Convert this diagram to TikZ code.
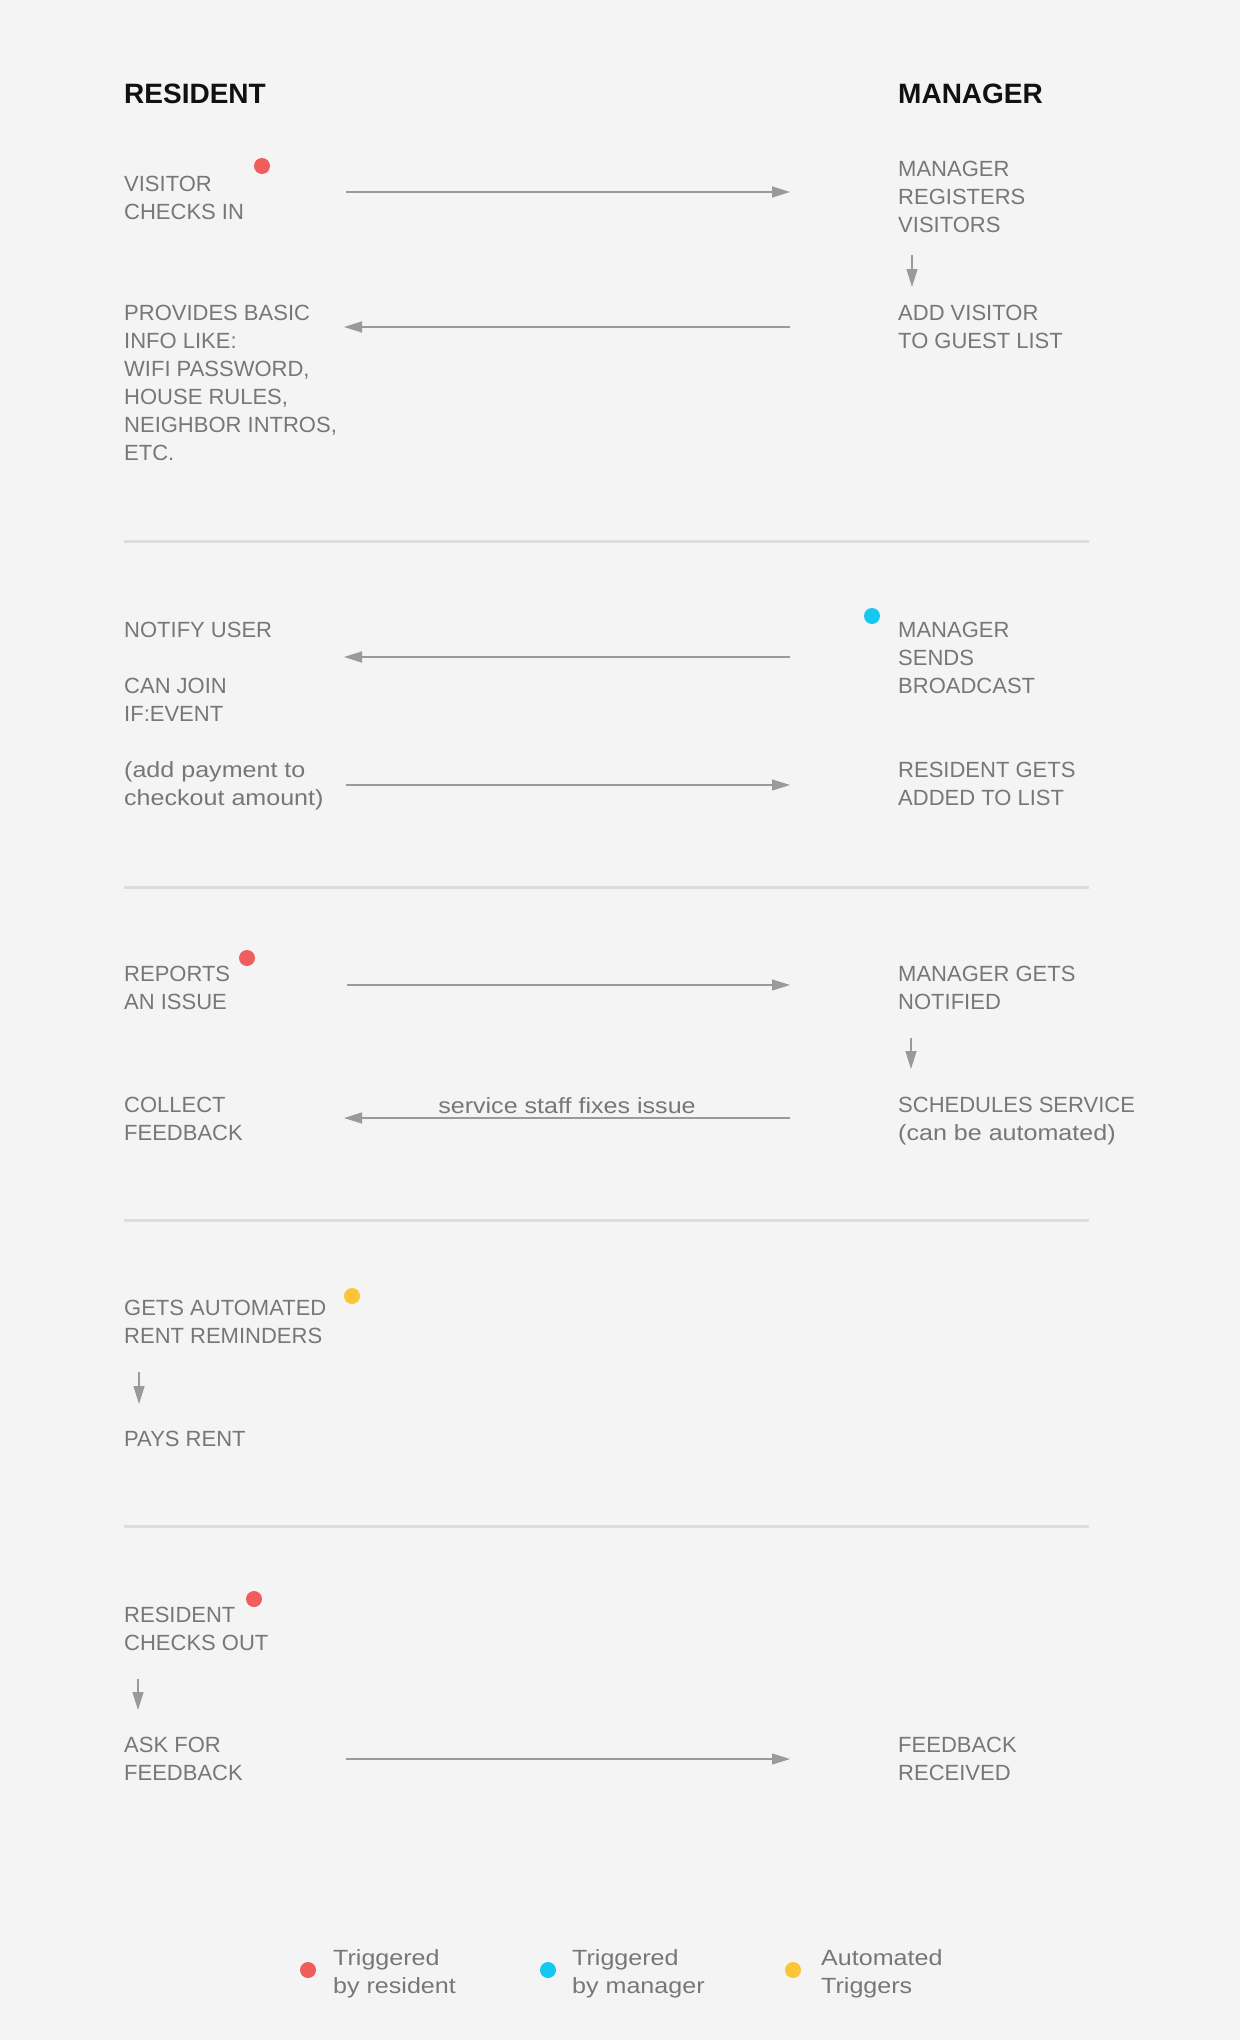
\documentclass[tikz,border=0pt]{standalone}
\usepackage{fontspec}
\setmainfont{Liberation Sans}
\newfontfamily\widefont[FakeStretch=1.14]{Liberation Sans}
\usetikzlibrary{arrows.meta, positioning}
\definecolor{flowbg}{HTML}{F4F4F4}
\definecolor{flowtext}{HTML}{777777}
\definecolor{flowhead}{HTML}{111111}
\definecolor{flowline}{HTML}{9A9A9A}
\definecolor{flowrule}{HTML}{DDDDDD}
\definecolor{dotred}{HTML}{EF5D5D}
\definecolor{dotblue}{HTML}{14C8F2}
\definecolor{dotyellow}{HTML}{FBC536}

% base anchor sits on the last line of a node
\tikzset{
  steptext/.style={anchor=base west,inner sep=0pt,align=left,text=flowtext,
    font=\fontsize{22}{28}\selectfont},
  notetext/.style={steptext,font=\fontsize{22}{28}\selectfont\widefont},
  headtext/.style={anchor=base west,inner sep=0pt,text=flowhead,
    font=\fontsize{28}{34}\selectfont\bfseries},
  flow/.style={draw=flowline,line width=1.3pt,-{Triangle[length=18pt,width=11pt]}},
  rule/.style={draw=flowrule,line width=3pt},
  trigger/.style={circle,inner sep=0pt,minimum size=16pt},
}

\begin{document}
\begin{tikzpicture}[x=1pt,y=-1pt]
  \fill[flowbg] (0,0) rectangle (1240,2040);
  \useasboundingbox (0,0) rectangle (1240,2040);

  % column heads
  \node[headtext] (resident) at (124,103) {RESIDENT};
  \node[headtext] (manager) at (898,103) {MANAGER};

  % visitors
  \node[steptext] (checkin) at (124,219) {VISITOR\\CHECKS IN};
  \node[trigger,fill=dotred] (d1) at (262,166) {};
  \node[steptext] (registers) at (898,232) {MANAGER\\REGISTERS\\VISITORS};
  \node[steptext] (guestlist) at (898,348) {ADD VISITOR\\TO GUEST LIST};
  \node[steptext] (basicinfo) at (124,460) {PROVIDES BASIC\\INFO LIKE:\\WIFI PASSWORD,\\HOUSE RULES,\\NEIGHBOR INTROS,\\ETC.};
  \coordinate (a1s) at (346,192);
  \coordinate (a1e) at (790,192);
  \coordinate (a2s) at (790,327);
  \coordinate (a2e) at (344,327);
  \coordinate (v1s) at (912,255);
  \coordinate (v1e) at (912,287);
  \draw[flow] (a1s) -- (a1e);
  \draw[flow] (a2s) -- (a2e);
  \draw[flow] (v1s) -- (v1e);
  \draw[rule] (124,541.5) -- (1089,541.5);

  % broadcast
  \node[trigger,fill=dotblue] (d2) at (872,616) {};
  \node[steptext] (broadcast) at (898,693) {MANAGER\\SENDS\\BROADCAST};
  \node[steptext] (notify) at (124,637) {NOTIFY USER};
  \node[steptext] (canjoin) at (124,721) {CAN JOIN\\IF:EVENT};
  \node[notetext] (payment) at (124,805) {(add payment to\\checkout amount)};
  \node[steptext] (addedlist) at (898,805) {RESIDENT GETS\\ADDED TO LIST};
  \coordinate (b1s) at (790,657);
  \coordinate (b1e) at (344,657);
  \coordinate (b2s) at (346,785);
  \coordinate (b2e) at (790,785);
  \draw[flow] (b1s) -- (b1e);
  \draw[flow] (b2s) -- (b2e);
  \draw[rule] (124,887) -- (1089,887);

  % issues
  \node[trigger,fill=dotred] (d3) at (247,958) {};
  \node[steptext] (issue) at (124,1009) {REPORTS\\AN ISSUE};
  \node[steptext] (notified) at (898,1009) {MANAGER GETS\\NOTIFIED};
  \node[steptext] (service) at (898,1140) {SCHEDULES SERVICE\\{\widefont(can be automated)}};
  \node[steptext] (feedback) at (124,1140) {COLLECT\\FEEDBACK};
  \coordinate (c1s) at (347,985);
  \coordinate (c1e) at (790,985);
  \coordinate (c2s) at (790,1118);
  \coordinate (c2e) at (344,1118);
  \coordinate (v2s) at (911,1038);
  \coordinate (v2e) at (911,1069);
  \draw[flow] (c1s) -- (c1e);
  \draw[flow] (c2s) -- (c2e) node[midway,above=4pt,text=flowtext,inner sep=0pt,
    font=\fontsize{22}{28}\selectfont\widefont] (fixes) {service staff fixes issue};
  \draw[flow] (v2s) -- (v2e);
  \draw[rule] (124,1220) -- (1089,1220);

  % rent
  \node[trigger,fill=dotyellow] (d4) at (352,1296) {};
  \node[steptext] (reminders) at (124,1343) {GETS AUTOMATED\\RENT REMINDERS};
  \node[steptext] (paysrent) at (124,1446) {PAYS RENT};
  \coordinate (v3s) at (139,1372);
  \coordinate (v3e) at (139,1404);
  \draw[flow] (v3s) -- (v3e);
  \draw[rule] (124,1526) -- (1089,1526);

  % check out
  \node[trigger,fill=dotred] (d5) at (254,1599) {};
  \node[steptext] (checkout) at (124,1650) {RESIDENT\\CHECKS OUT};
  \node[steptext] (askfeedback) at (124,1780) {ASK FOR\\FEEDBACK};
  \node[steptext] (received) at (898,1780) {FEEDBACK\\RECEIVED};
  \coordinate (v4s) at (138,1679);
  \coordinate (v4e) at (138,1710);
  \coordinate (e1s) at (346,1759);
  \coordinate (e1e) at (790,1759);
  \draw[flow] (v4s) -- (v4e);
  \draw[flow] (e1s) -- (e1e);

  % legend
  \node[trigger,fill=dotred] (k1) at (308,1970) {};
  \node[trigger,fill=dotblue] (k2) at (548,1970) {};
  \node[trigger,fill=dotyellow] (k3) at (793,1970) {};
  \node[notetext] (k1text) at (333,1993) {Triggered\\by resident};
  \node[notetext] (k2text) at (572,1993) {Triggered\\by manager};
  \node[notetext] (k3text) at (821,1993) {Automated\\Triggers};
\end{tikzpicture}
\end{document}
